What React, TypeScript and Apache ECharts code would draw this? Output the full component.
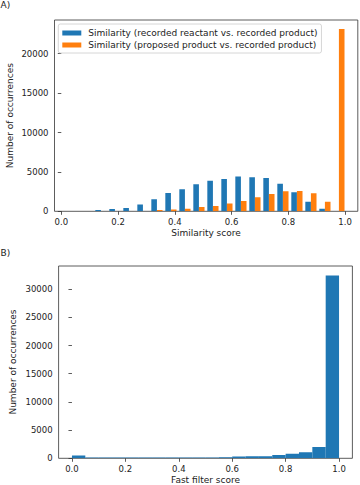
import React, { useEffect, useRef } from "react";
import * as echarts from "echarts";

// Panel A: histogram, 20 bins, two datasets side by side
const topBinStart = 0.0163;
const topBinWidth = 0.04934;
const topBlue = [0, 20, 180, 300, 420, 860, 1540, 2320, 2790, 3430, 3890, 4100, 4420, 4320, 4230, 3500, 2420, 1220, 330, 20];
const topOrange = [0, 0, 0, 0, 0, 20, 150, 220, 330, 550, 680, 980, 1320, 1780, 2200, 2540, 2580, 2300, 1220, 23150];
const topXTicks = [0, 0.2, 0.4, 0.6, 0.8, 1.0];
const topYTicks = [0, 5000, 10000, 15000, 20000];
const seriesNames = [
  "Similarity (recorded reactant vs. recorded product)",
  "Similarity (proposed product vs. recorded product)",
];

// Panel B: histogram, 20 bins of 0.05
const bottomBinStart = 0;
const bottomBinWidth = 0.05;
const bottomValues = [500, 160, 140, 130, 120, 120, 130, 130, 140, 150, 160, 180, 330, 350, 370, 590, 800, 1060, 2000, 32400];
const bottomXTicks = [0, 0.2, 0.4, 0.6, 0.8, 1.0];
const bottomYTicks = [0, 5000, 10000, 15000, 20000, 25000, 30000];

const FONT = "DejaVu Sans";
const BLUE = "#1f77b4";
const ORANGE = "#ff7f0e";

function renderRect(params: any, api: any) {
  const x0 = api.value(0);
  const x1 = api.value(1);
  const y = api.value(2);
  const p0 = api.coord([x0, 0]);
  const p1 = api.coord([x1, y]);
  return {
    type: "rect",
    shape: { x: p0[0], y: p1[1], width: p1[0] - p0[0], height: p0[1] - p1[1] },
    style: { fill: api.visual("color") },
  };
}

export default function App() {
  const ref = useRef<HTMLDivElement>(null);
  useEffect(() => {
    if (!ref.current) return;
    const chart = echarts.init(ref.current, null, { renderer: "svg" });

    const blueData = topBlue.map((v, i) => {
      const e = topBinStart + topBinWidth * i;
      return [e + 0.1 * topBinWidth, e + 0.5 * topBinWidth, v];
    });
    const orangeData = topOrange.map((v, i) => {
      const e = topBinStart + topBinWidth * i;
      return [e + 0.5 * topBinWidth, e + 0.9 * topBinWidth, v];
    });
    const bottomData = bottomValues.map((v, i) => {
      const e = bottomBinStart + bottomBinWidth * i;
      return [e, e + bottomBinWidth, v];
    });

    const axisCommon = (ticks: number[], fmt: (v: number) => string) => ({
      axisLine: { show: false },
      splitLine: { show: false },
      axisTick: {
        show: true,
        customValues: ticks,
        length: 3.5,
        lineStyle: { color: "#333", width: 0.8 },
      },
      axisLabel: {
        customValues: ticks,
        formatter: fmt,
        fontSize: 8.5,
        fontFamily: FONT,
        color: "#222",
        margin: 6,
      },
    });

    const xf = (v: number) => v.toFixed(1);
    const yf = (v: number) => String(Math.round(v));

    const textEl = (text: string, x: number, y: number, extra: any = {}) => ({
      type: "text",
      x,
      y,
      ...extra,
      style: {
        text,
        fontSize: 9,
        fontFamily: FONT,
        fill: "#222",
        align: extra.align || "center",
        verticalAlign: "middle",
      },
    });

    chart.setOption({
      animation: false,
      textStyle: { fontFamily: FONT },
      grid: [
        { left: 54.5, top: 20, width: 303.3, height: 191.3, show: true, borderColor: "#333", borderWidth: 0.8 },
        { left: 58.6, top: 266, width: 293.8, height: 192.3, show: true, borderColor: "#333", borderWidth: 0.8 },
      ],
      xAxis: [
        { type: "value", gridIndex: 0, min: -0.024, max: 1.045, ...axisCommon(topXTicks, xf) },
        { type: "value", gridIndex: 1, min: -0.05, max: 1.05, ...axisCommon(bottomXTicks, xf) },
      ],
      yAxis: [
        { type: "value", gridIndex: 0, min: 0, max: 24280, ...axisCommon(topYTicks, yf) },
        { type: "value", gridIndex: 1, min: 0, max: 34100, ...axisCommon(bottomYTicks, yf) },
      ],
      legend: {
        orient: "vertical",
        left: 58.3,
        top: 24,
        itemWidth: 19,
        itemHeight: 5,
        itemGap: 0,
        icon: "rect",
        padding: [3, 4, 2, 4],
        borderColor: "#ccc",
        borderWidth: 0.8,
        borderRadius: 2,
        backgroundColor: "rgba(255,255,255,0.8)",
        selectedMode: false,
        data: seriesNames,
        textStyle: { fontSize: 9, fontFamily: FONT, color: "#222", lineHeight: 12, padding: [0, 0, 0, 2] },
      },
      graphic: [
        textEl("A)", 0.5, 5, { align: "left" }),
        textEl("B)", 0.5, 253, { align: "left" }),
        textEl("Similarity score", 206, 233),
        textEl("Fast filter score", 205.5, 480),
        textEl("Number of occurrences", 10, 115.6, { rotation: Math.PI / 2 }),
        textEl("Number of occurrences", 13.3, 362, { rotation: Math.PI / 2 }),
      ],
      series: [
        {
          type: "custom",
          name: seriesNames[0],
          xAxisIndex: 0,
          yAxisIndex: 0,
          clip: true,
          itemStyle: { color: BLUE },
          renderItem: renderRect,
          encode: { x: [0, 1], y: 2 },
          data: blueData,
        },
        {
          type: "custom",
          name: seriesNames[1],
          xAxisIndex: 0,
          yAxisIndex: 0,
          clip: true,
          itemStyle: { color: ORANGE },
          renderItem: renderRect,
          encode: { x: [0, 1], y: 2 },
          data: orangeData,
        },
        {
          type: "custom",
          name: "Fast filter score",
          xAxisIndex: 1,
          yAxisIndex: 1,
          clip: true,
          itemStyle: { color: BLUE },
          renderItem: renderRect,
          encode: { x: [0, 1], y: 2 },
          data: bottomData,
        },
      ],
    });
    return () => chart.dispose();
  }, []);
  return (
    <div
      ref={ref}
      style={{ position: "fixed", left: 0, top: 0, width: 360, height: 485, background: "#fff" }}
    />
  );
}
